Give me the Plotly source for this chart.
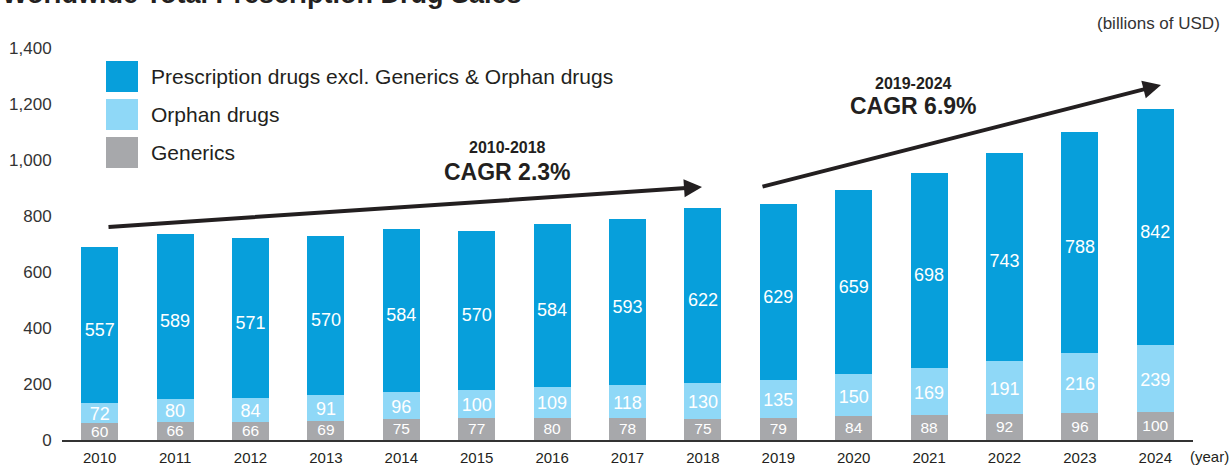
import plotly.graph_objects as go

# Worldwide prescription drug sales, billions of USD
years = ["2010", "2011", "2012", "2013", "2014", "2015", "2016", "2017",
         "2018", "2019", "2020", "2021", "2022", "2023", "2024"]
generics = [60, 66, 66, 69, 75, 77, 80, 78, 75, 79, 84, 88, 92, 96, 100]
orphan = [72, 80, 84, 91, 96, 100, 109, 118, 130, 135, 150, 169, 191, 216, 239]
rx_other = [557, 589, 571, 570, 584, 570, 584, 593, 622, 629, 659, 698, 743, 788, 842]
y_ticks = [0, 200, 400, 600, 800, 1000, 1200, 1400]

C_RX = "#079fdb"
C_ORPHAN = "#8fd8f7"
C_GEN = "#a7a8ab"
INK = "#231f20"
FONT = "Liberation Sans, Arial, sans-serif"

W, H = 1232, 466
M_L, M_R, M_T, M_B = 62, 39, 48, 26
PW, PH = W - M_L - M_R, H - M_T - M_B


def px(x):
    return (x - M_L) / PW


def py(y):
    return (H - M_B - y) / PH


fig = go.Figure()
stack = [("Generics", generics, C_GEN), ("Orphan drugs", orphan, C_ORPHAN),
         ("Prescription drugs excl. Generics & Orphan drugs", rx_other, C_RX)]
for name, vals, col in stack:
    fig.add_trace(go.Bar(x=years, y=vals, name=name, marker=dict(color=col, line_width=0),
                         showlegend=False, hoverinfo="y"))

# value labels inside each stacked segment (nudged slightly below the midpoint)
base = [0] * len(years)
for (name, vals, col), size, nudge in zip(stack, [15.5, 18, 18], [4, 9, 22]):
    mids = [b + v / 2 - nudge for b, v in zip(base, vals)]
    fig.add_trace(go.Scatter(x=years, y=mids, mode="text", text=[str(v) for v in vals],
                             textposition="middle center",
                             textfont=dict(color="white", size=size, family=FONT),
                             showlegend=False, hoverinfo="skip"))
    base = [b + v for b, v in zip(base, vals)]

shapes = []
annotations = []

# legend swatches
legend_items = [("Prescription drugs excl. Generics & Orphan drugs", C_RX, 61),
                ("Orphan drugs", C_ORPHAN, 99),
                ("Generics", C_GEN, 137)]
for label, col, top in legend_items:
    shapes.append(dict(type="rect", xref="paper", yref="paper",
                       x0=px(106), x1=px(138), y0=py(top + 31), y1=py(top),
                       fillcolor=col, line_width=0))
    annotations.append(dict(xref="paper", yref="paper", x=px(149), y=py(top + 15.5),
                            xanchor="left", yanchor="middle", showarrow=False,
                            text=label, font=dict(size=21, color=INK, family=FONT)))

# growth arrows
arrows = [((107, 227), (702, 187)), ((761, 187), (1161, 85))]
for (x0, y0), (x1, y1) in arrows:
    annotations.append(dict(xref="paper", yref="paper", x=px(x1), y=py(y1),
                            ax=x0 - x1, ay=y0 - y1, text="", showarrow=True,
                            arrowhead=2, arrowsize=0.9, arrowwidth=4, arrowcolor=INK,
                            standoff=0, startstandoff=0))

for cx, y_period, y_cagr, period, cagr in [(507, 147, 172, "2010-2018", "CAGR 2.3%"),
                                           (913, 83, 106, "2019-2024", "CAGR 6.9%")]:
    annotations.append(dict(xref="paper", yref="paper", x=px(cx), y=py(y_period),
                            xanchor="center", yanchor="middle", showarrow=False,
                            text="<b>%s</b>" % period, font=dict(size=16, color=INK, family=FONT)))
    annotations.append(dict(xref="paper", yref="paper", x=px(cx), y=py(y_cagr),
                            xanchor="center", yanchor="middle", showarrow=False,
                            text="<b>%s</b>" % cagr, font=dict(size=23, color=INK, family=FONT)))

# title, unit and axis caption
annotations.append(dict(xref="paper", yref="paper", x=px(0), y=py(5), xanchor="left",
                        yanchor="bottom", yshift=-6, showarrow=False,
                        text="<b>Worldwide Total Prescription Drug Sales</b>",
                        font=dict(size=27, color=INK, family=FONT)))
annotations.append(dict(xref="paper", yref="paper", x=px(1222), y=py(23), xanchor="right",
                        yanchor="middle", showarrow=False, text="(billions of USD)",
                        font=dict(size=17, color="#333333", family=FONT)))
annotations.append(dict(xref="paper", yref="paper", x=px(1231), y=py(457), xanchor="right",
                        yanchor="middle", showarrow=False, text="(year)",
                        font=dict(size=15, color=INK, family=FONT)))

fig.update_layout(
    width=W, height=H,
    margin=dict(l=M_L, r=M_R, t=M_T, b=M_B, autoexpand=False),
    paper_bgcolor="white", plot_bgcolor="white",
    barmode="stack", bargap=0.51,
    shapes=shapes, annotations=annotations,
    font=dict(family=FONT, color=INK),
    xaxis=dict(type="category", range=[-0.5, 14.5], showgrid=False, zeroline=False,
               showline=True, linecolor="#333333", linewidth=2, ticks="outside",
               ticklen=3, tickcolor="rgba(0,0,0,0)",
               tickfont=dict(size=15, color=INK)),
    yaxis=dict(range=[0, 1400], tickvals=y_ticks, tickformat=",", showgrid=False,
               zeroline=False, showline=False, ticks="outside", ticklen=6,
               tickcolor="rgba(0,0,0,0)", tickfont=dict(size=17, color="#333333")),
)

fig.write_html("out.html")
